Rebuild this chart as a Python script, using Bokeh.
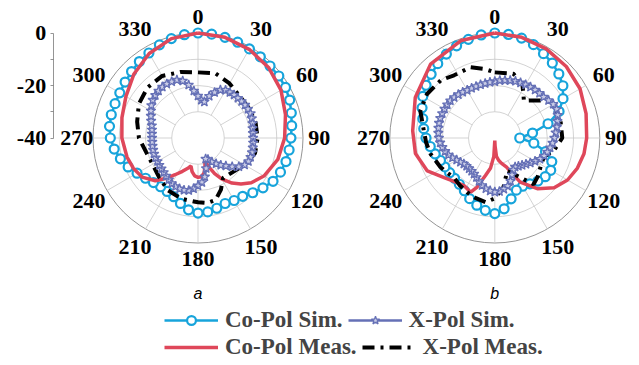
import numpy as np
from bokeh.plotting import figure
from bokeh.models import LinearAxis, FixedTicker, Range1d, Legend, LegendItem
from bokeh.core.properties import value
from bokeh.embed import file_html
from bokeh.resources import INLINE

# ---------------- data (dB vs angle in degrees) ----------------
R_MIN, R_MAX = -40, 0
RADIAL_TICKS = [-40, -30, -20, -10, 0]
RADIAL_LABELS = ["-40", "", "-20", "", "0"]
GRID_DB = [-30, -20, -10, 0]
ANGLE_TICKS = [0, 30, 60, 90, 120, 150, 180, 210, 240, 270, 300, 330]

SIM_CO_ANG = [i * 7.5 for i in range(48)]
SIM_X_ANG = [i * 5 for i in range(72)]

# (a)
a_co_sim = [0, -0.1, -0.3, -0.5, -0.8, -1.0, -1.2, -1.2, -1.5, -2.2, -3.2, -4.0,
            -4.6, -5.0, -5.3, -6.0, -7.0, -8.8, -10.5, -12.0, -12.5, -13.0, -12.3, -11.6,
            -11.4, -12.4, -14.2, -15.8, -16.5, -16.6, -16.0, -14.8, -13.2, -11.2, -9.4, -7.8,
            -6.6, -6.0, -5.8, -5.8, -5.6, -5.0, -4.2, -3.3, -2.6, -1.6, -0.8, -0.3]
a_x_sim = [-24, -25.5, -26, -23.5, -21.5, -19.8, -19, -18.8, -18.6, -18.5, -18.3, -18.1,
           -18, -17.9, -18.2, -18.5, -18.9, -19, -19, -18.9, -18.8, -18.7, -18.7, -18.8,
           -19.5, -21, -23, -25, -26.5, -28, -29.5, -31, -31.5, -28, -25, -23,
           -21.8, -20.6, -19.7, -19.4, -19.4, -19.6, -20, -20.6, -21.1, -21.5, -21.8, -22,
           -22.2, -22.2, -22.2, -22.3, -22.4, -22.5, -22.5, -22.4, -22.2, -21.8, -21, -20.2,
           -19.3, -18.3, -17.5, -17, -16.6, -16.3, -16.2, -16.3, -16.5, -17.5, -19.5, -22]
a_co_meas_ang = [0, 15, 30, 45, 60, 75, 90, 105, 120, 130, 137, 143, 150, 155, 160, 163, 166,
                 170, 175, 180, 185, 190, 194, 198, 205, 212, 218, 225, 235, 245, 255, 270,
                 285, 300, 315, 330, 345, 360]
a_co_meas = [0, -0.3, -1, -2, -3.5, -5.5, -7, -8.5, -11, -13.5, -16, -18.5, -22, -25, -28.5,
             -31, -29, -26.5, -25.2, -25, -25.5, -27, -29, -28, -26, -23.5, -20.5, -17, -14,
             -12.8, -12, -11, -10, -8.3, -5.5, -2.8, -0.8, 0]
a_x_meas_ang = [0, 15, 30, 45, 60, 75, 90, 105, 120, 135, 148, 156, 164, 172, 180, 195, 210,
                225, 240, 255, 270, 285, 300, 315, 330, 345, 360]
a_x_meas = [-15, -14.5, -16, -17.5, -17.5, -17.3, -17.3, -17.5, -19.5, -21.5, -22, -18.5,
            -15.5, -15, -15.5, -16, -17, -19, -20, -19.5, -17.5, -16, -14, -12.8, -12.7, -14,
            -15]

# (b)
b_co_sim = [0, -0.2, -0.6, -1.5, -2.9, -4.0, -5.5, -7.3, -10.0, -13.5, -19.0, -25.5,
            -30.5, -25.0, -20.0, -16.5, -15.4, -15.8, -16.8, -18.0, -18.8, -18.5, -16.0, -12.8,
            -11.2, -12.2, -13.5, -15.0, -16.8, -17.8, -18.3, -18.3, -18.0, -17.6, -16.5, -15.2,
            -13.8, -12.7, -11.6, -10.0, -8.3, -7.0, -5.7, -4.3, -3.1, -2.0, -1.1, -0.4]
b_x_sim = [-18.5, -18, -17.7, -17.3, -17, -16.8, -16.5, -16.3, -16.1, -15.9, -15.7, -15,
           -14.3, -14, -14.5, -15.3, -16, -16.7, -17.3, -17.9, -18.6, -19.3, -20, -21,
           -22.3, -23.5, -24.5, -25.3, -26, -26.5, -26, -24.5, -22.5, -21, -20.2, -19.6,
           -19.4, -19.8, -20.4, -21.3, -22.4, -23.4, -24.2, -24.6, -24.8, -24.8, -24.6, -24,
           -23.2, -22.2, -21.2, -20.4, -19.7, -19.1, -18.7, -18.4, -18.2, -18, -17.9, -17.9,
           -17.9, -17.9, -17.9, -18.1, -18.4, -18.7, -19, -19.1, -19.1, -19, -18.9, -18.7]
b_co_meas_ang = [0, 15, 30, 45, 60, 75, 90, 100, 110, 120, 130, 140, 150, 154, 158, 165, 170,
                 175, 178, 180, 183, 188, 194, 200, 204, 213, 222, 232, 244, 259, 275, 297,
                 319, 341, 360]
b_co_meas = [0, -0.3, -0.8, -1.5, -2.5, -4, -5, -5.5, -6.5, -8, -10.5, -14.8, -20.6, -25, -28,
             -30, -31.3, -33, -37, -39, -33, -28.5, -25.3, -20, -17.4, -18.4, -17.5, -15.5,
             -11.4, -9.2, -8.6, -6, -2.7, -0.7, 0]
b_x_meas_ang = [0, 16, 27, 33, 38, 46, 56, 65, 75, 90, 102, 111, 122, 132, 140, 148, 159, 170,
                180, 188, 198, 207, 217, 226, 234, 242, 256, 266, 276, 290, 303, 317, 327,
                341, 352, 360]
b_x_meas = [-15, -14.5, -16.9, -20, -22, -19.4, -14.5, -14.2, -14.1, -14.3, -17, -20, -19.4,
            -18, -17, -22.5, -26.7, -21, -17, -15.3, -16, -16.8, -17.6, -18.4, -17.5, -16.5,
            -14.8, -13.8, -12.8, -9.8, -9.2, -9.9, -11.5, -11.5, -13.5, -15]

# ---------------- layout ----------------
W, H = 639, 365
PX = 105.0 / (R_MAX - R_MIN)          # pixels per dB
CXL, CY = 197.5, 137.5                # canvas px of the left pole
X0, X1 = -CXL / PX, (W - CXL) / PX
Y1, Y0 = CY / PX, -(H - CY) / PX
OFF_B = (494.3 - 197.5) / PX
AX_X = (52.7 - CXL) / PX

BLUE = "#17A4DB"
SLATE = "#6570B6"
RED = "#DF475A"
FONT = "Liberation Serif"

p = figure(width=W, height=H, x_range=Range1d(X0, X1), y_range=Range1d(Y0, Y1),
           output_backend="svg", toolbar_location=None, min_border=0,
           x_axis_type=None, y_axis_type=None, outline_line_color=None)


def polar(ang, db, cx):
    t = np.radians(np.asarray(ang, dtype=float))
    r = np.clip(np.asarray(db, dtype=float), R_MIN, R_MAX) - R_MIN
    return cx + r * np.sin(t), r * np.cos(t)


def closed(ang, vals):
    return list(ang) + [360], list(vals) + [vals[0]]


for cx in (0.0, OFF_B):
    rad = [g - R_MIN for g in GRID_DB]
    p.circle(x=[cx] * len(rad), y=[0] * len(rad), radius=rad, fill_color=None,
             line_color=["#C8C8C8"] * (len(rad) - 1) + ["#7A7A7A"], line_width=0.8)
    t = np.radians(ANGLE_TICKS)
    r0, r1 = GRID_DB[0] - R_MIN, R_MAX - R_MIN
    p.segment(x0=cx + r0 * np.sin(t), y0=r0 * np.cos(t), x1=cx + r1 * np.sin(t),
              y1=r1 * np.cos(t), line_color="#C8C8C8", line_width=0.8)
    rl = 46.2 + 2.0 * np.abs(np.sin(2 * t))
    p.text(x=cx + rl * np.sin(t), y=rl * np.cos(t), text=[str(a) for a in ANGLE_TICKS],
           text_align="center", text_baseline="middle", text_font=value(FONT),
           text_font_style="bold", text_font_size="22px", text_color="black")

renders = {}
for cx, co_sim, x_sim, co_ang, co_meas, xm_ang, x_meas in (
        (0.0, a_co_sim, a_x_sim, a_co_meas_ang, a_co_meas, a_x_meas_ang, a_x_meas),
        (OFF_B, b_co_sim, b_x_sim, b_co_meas_ang, b_co_meas, b_x_meas_ang, b_x_meas)):
    # co-pol sim
    ang, v = closed(SIM_CO_ANG, co_sim)
    x, y = polar(ang, v, cx)
    l1 = p.line(x, y, line_color=BLUE, line_width=2.5)
    x, y = polar(SIM_CO_ANG, co_sim, cx)
    s1 = p.scatter(x, y, marker="circle", size=9, line_color=BLUE, line_width=2.2,
                   fill_color="white")
    # co-pol meas
    x, y = polar(co_ang, co_meas, cx)
    l3 = p.line(x, y, line_color=RED, line_width=3.5)
    # x-pol meas
    x, y = polar(xm_ang, x_meas, cx)
    l4 = p.line(x, y, line_color="black", line_width=4, line_dash="12 6 3 6")
    # x-pol sim
    ang, v = closed(SIM_X_ANG, x_sim)
    x, y = polar(ang, v, cx)
    l2 = p.line(x, y, line_color=SLATE, line_width=2.5)
    x, y = polar(SIM_X_ANG, x_sim, cx)
    s2 = p.scatter(x, y, marker="star", size=10, line_color=SLATE, line_width=1.3,
                   fill_color="#C9CCE6")
    if cx == 0.0:
        renders = dict(l1=l1, s1=s1, l2=l2, s2=s2, l3=l3, l4=l4)

# radial axis
ax = LinearAxis(fixed_location=AX_X, bounds=(0, R_MAX - R_MIN),
                ticker=FixedTicker(ticks=[t - R_MIN for t in RADIAL_TICKS], minor_ticks=[]),
                major_label_overrides={t - R_MIN: lab for t, lab in zip(RADIAL_TICKS, RADIAL_LABELS)},
                axis_line_color="#7A7A7A", axis_line_width=0.8,
                major_tick_line_color="#7A7A7A", major_tick_line_width=0.8,
                major_tick_in=0, major_tick_out=3, major_label_standoff=4,
                major_label_text_font=FONT, major_label_text_font_style="bold",
                major_label_text_font_size="22px", major_label_text_color="black")
p.add_layout(ax, "left")

# panel captions
p.text(x=[0, OFF_B], y=[(CY - 293) / PX] * 2, text=["a", "b"], text_align="center",
       text_baseline="middle", text_font=value("Liberation Sans"), text_font_style="italic",
       text_font_size="16px", text_color="black")


def make_legend(items, vy):
    return Legend(items=items, orientation="horizontal", location=(164, vy),
                  glyph_width=54, glyph_height=22, label_height=22, label_standoff=7,
                  spacing=5, padding=0, margin=0, border_line_color=None,
                  background_fill_alpha=0, label_text_font=FONT,
                  label_text_font_style="bold", label_text_font_size="23px")


leg1 = make_legend([LegendItem(label="Co-Pol Sim.", renderers=[renders["l1"], renders["s1"]]),
                    LegendItem(label="X-Pol Sim.", renderers=[renders["l2"], renders["s2"]])],
                   H - (322 + 11))
leg2 = make_legend([LegendItem(label="Co-Pol Meas.", renderers=[renders["l3"]]),
                    LegendItem(label="X-Pol Meas.", renderers=[renders["l4"]])],
                   H - (349 + 11))
p.add_layout(leg1, "center")
p.add_layout(leg2, "center")

open("out.html", "w").write(file_html(p, INLINE))
